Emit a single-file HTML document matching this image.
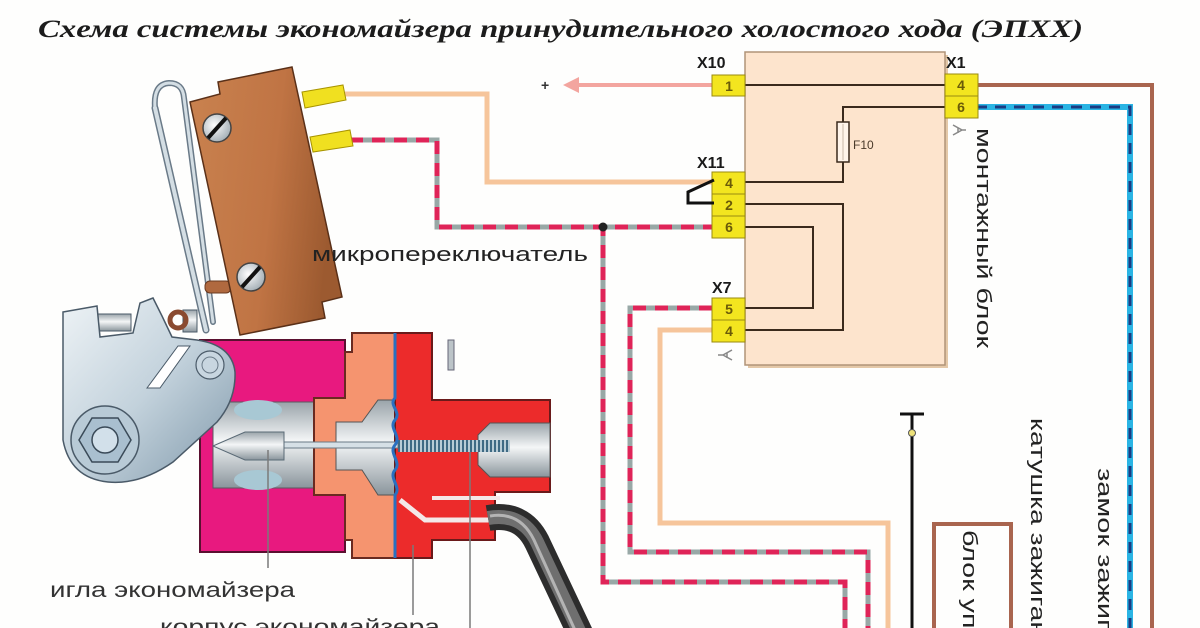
<!DOCTYPE html>
<html><head><meta charset="utf-8"><style>
html,body{margin:0;padding:0;background:#fff;width:1200px;height:628px;overflow:hidden;}
svg{display:block;}
</style></head><body>
<svg width="1200" height="628" viewBox="0 0 1200 628" xmlns="http://www.w3.org/2000/svg" font-family="'Liberation Sans','DejaVu Sans',sans-serif">
<defs>
<linearGradient id="brown" x1="0" y1="0" x2="1" y2="0.2">
<stop offset="0" stop-color="#c9824f"/><stop offset="0.6" stop-color="#c07444"/><stop offset="1" stop-color="#9c5a30"/></linearGradient>
<linearGradient id="silver" x1="0" y1="0" x2="1" y2="1">
<stop offset="0" stop-color="#eef3f6"/><stop offset="0.5" stop-color="#c3d2dc"/><stop offset="1" stop-color="#7f98aa"/></linearGradient>
<linearGradient id="silv2" x1="0" y1="0" x2="0" y2="1">
<stop offset="0" stop-color="#9aa4aa"/><stop offset="0.45" stop-color="#f4f6f7"/><stop offset="1" stop-color="#8a959c"/></linearGradient>
<radialGradient id="screw" cx="0.4" cy="0.4" r="0.7">
<stop offset="0" stop-color="#ffffff"/><stop offset="1" stop-color="#9aa6ae"/></radialGradient>
</defs>
<rect width="1200" height="628" fill="#fefefd"/>

<!-- Title -->
<text x="38" y="37" style="font-family:'Liberation Serif','DejaVu Serif',serif;font-style:italic;font-weight:bold" font-size="25" fill="#1c1c1c" textLength="1045" lengthAdjust="spacingAndGlyphs">Схема системы экономайзера принудительного холостого хода (ЭПХХ)</text>

<!-- wires -->
<g fill="none" stroke-linejoin="miter">
<path d="M345,94 H487 V182 H712" stroke="#f6c59b" stroke-width="5"/>
<path d="M712,330 H660 V523 H888 V640" stroke="#f6c59b" stroke-width="5"/>
<path d="M350,140 H437 V227 H712" stroke="#98a8a6" stroke-width="5"/>
<path d="M350,140 H437 V227 H712" stroke="#df2458" stroke-width="5" stroke-dasharray="13 9"/>
<path d="M603,227 V582 H845 V640" stroke="#98a8a6" stroke-width="5"/>
<path d="M603,227 V582 H845 V640" stroke="#df2458" stroke-width="5" stroke-dasharray="13 9" stroke-dashoffset="4"/>
<path d="M712,308 H630 V552 H868 V640" stroke="#98a8a6" stroke-width="5"/>
<path d="M712,308 H630 V552 H868 V640" stroke="#df2458" stroke-width="5" stroke-dasharray="13 9"/>
<path d="M976,107 H1130 V640" stroke="#2ab4e4" stroke-width="6"/>
<path d="M976,107 H1130 V640" stroke="#1b3b82" stroke-width="3" stroke-dasharray="11 8"/>
<path d="M976,85 H1152 V640" stroke="#a9654f" stroke-width="4"/>
<path d="M712,85 H576" stroke="#f3a59f" stroke-width="4"/>
</g>
<polygon points="563,85 579,77 579,93" fill="#f3a59f"/>
<text x="541" y="90" font-size="14" fill="#333" font-weight="bold">+</text>
<circle cx="603" cy="227" r="4.5" fill="#222"/>

<!-- Block -->
<rect x="748" y="55" width="200" height="313" fill="#e4c8a8"/>
<rect x="745" y="52" width="200" height="313" fill="#fde4cd" stroke="#b09478" stroke-width="1.5"/>
<g fill="none" stroke="#3b2a1c" stroke-width="2">
<path d="M745,85 H945"/>
<path d="M945,107 H843 V122"/>
<path d="M843,162 V182 H745"/>
<path d="M745,204 H843 V330 H745"/>
<path d="M745,227 H813 V308 H745"/>
</g>
<rect x="837" y="122" width="12" height="40" fill="#fff4ea" stroke="#3b2a1c" stroke-width="1.5"/>
<line x1="843" y1="124" x2="843" y2="160" stroke="#c8b8a8" stroke-width="1"/>
<text x="853" y="149" font-size="12" fill="#4a3a2a">F10</text>

<!-- connectors -->
<g stroke="#9a8a10" stroke-width="1" fill="#f3e51f">
<rect x="712" y="75" width="33" height="21"/>
<rect x="945" y="74" width="33" height="22"/>
<rect x="945" y="96" width="33" height="22"/>
<rect x="712" y="172" width="33" height="22"/>
<rect x="712" y="194" width="33" height="22"/>
<rect x="712" y="216" width="33" height="22"/>
<rect x="712" y="298" width="33" height="22"/>
<rect x="712" y="320" width="33" height="22"/>
</g>
<g font-size="14" fill="#6a5a08" text-anchor="middle" font-weight="bold">
<text x="729" y="91">1</text>
<text x="961" y="90">4</text>
<text x="961" y="112">6</text>
<text x="729" y="188">4</text>
<text x="729" y="210">2</text>
<text x="729" y="232">6</text>
<text x="729" y="314">5</text>
<text x="729" y="336">4</text>
</g>
<g font-size="16" font-weight="bold" fill="#1a1a1a">
<text x="697" y="68">X10</text>
<text x="946" y="68">X1</text>
<text x="697" y="168">X11</text>
<text x="712" y="293">X7</text>
</g>
<path d="M714,180 L688,192 V203 H714" fill="none" stroke="#111" stroke-width="3"/>
<g stroke="#888" stroke-width="1.5" fill="none">
<path d="M953,125 L962,130 L953,135 M958,128 V133 M962,130 H966"/>
<path d="M732,350 L723,355 L732,360 M727,353 V358 M723,355 H718"/>
</g>

<!-- vertical labels -->
<g font-size="20" fill="#222">
<text transform="translate(977,128) rotate(90)" textLength="220" lengthAdjust="spacingAndGlyphs">монтажный блок</text>
<text transform="translate(1031,418) rotate(90)" textLength="250" lengthAdjust="spacingAndGlyphs">катушка зажигания</text>
<text transform="translate(1098,468) rotate(90)" textLength="225" lengthAdjust="spacingAndGlyphs">замок зажигания</text>
<text transform="translate(963,530) rotate(90)" textLength="225" lengthAdjust="spacingAndGlyphs">блок управления</text>
</g>

<!-- T symbol -->
<path d="M900,414 H924 M912,414 V640" stroke="#111" stroke-width="3" fill="none"/>
<circle cx="912" cy="433" r="3.5" fill="#eee27a" stroke="#555" stroke-width="1"/>
<rect x="934" y="524" width="77" height="140" fill="none" stroke="#a9654f" stroke-width="4"/>

<!-- micro switch lever rod -->
<g fill="none" stroke-linecap="round">
<path d="M155,108 Q153,84 169,83 Q183,83 184,98 L213,322" stroke="#6a7a88" stroke-width="6"/>
<path d="M155,108 L206,330" stroke="#6a7a88" stroke-width="7"/>
<path d="M155,108 Q153,84 169,83 Q183,83 184,98 L213,322" stroke="#d4dee4" stroke-width="3"/>
<path d="M155,108 L206,330" stroke="#d4dee4" stroke-width="4"/>
</g>
<rect x="205" y="281" width="26" height="12" rx="5" fill="#b0693f" stroke="#6a3a20" stroke-width="1"/>
<path d="M190,102 L220,94 L218,82 L292,67 L342,297 L322,302 L325,318 L240,335 Z" fill="url(#brown)" stroke="#5a3018" stroke-width="1.5"/>
<polygon points="302,92 343,85 346,100 305,108" fill="#f0e020" stroke="#a89400" stroke-width="1"/>
<polygon points="310,137 350,130 353,146 313,152" fill="#f0e020" stroke="#a89400" stroke-width="1"/>
<circle cx="217" cy="128" r="14" fill="url(#screw)" stroke="#444" stroke-width="1.5"/>
<line x1="208" y1="138" x2="226" y2="118" stroke="#111" stroke-width="4"/>
<circle cx="251" cy="277" r="14" fill="url(#screw)" stroke="#444" stroke-width="1.5"/>
<line x1="242" y1="287" x2="260" y2="267" stroke="#111" stroke-width="4"/>

<!-- economizer body -->
<rect x="200" y="340" width="145" height="212" fill="#e8197f" stroke="#5a1030" stroke-width="2"/>
<rect x="213" y="402" width="102" height="86" fill="url(#silv2)" stroke="#5a5a60" stroke-width="1"/>
<ellipse cx="258" cy="410" rx="24" ry="10" fill="#a8c8d4"/>
<ellipse cx="258" cy="480" rx="24" ry="10" fill="#a8c8d4"/>
<path d="M345,352 H352 V333 H395 V558 H352 V540 H345 V495 H314 V398 H345 Z" fill="#f5946f" stroke="#6a2a20" stroke-width="2"/>
<polygon points="336,422 362,422 378,400 395,400 395,495 378,495 362,470 336,470" fill="url(#silv2)" stroke="#555" stroke-width="1"/>
<path d="M395,333 H432 V400 H550 V492 H495 V540 H432 V558 H395 Z" fill="#ec2b2b" stroke="#6a1a1a" stroke-width="2"/>
<path d="M490,423 H550 V477 H490 L478,465 V435 Z" fill="url(#silv2)" stroke="#555" stroke-width="1"/>
<path d="M400,500 L425,520 H500" fill="none" stroke="#f4e8e8" stroke-width="5"/>
<path d="M432,498 H500" fill="none" stroke="#f4e8e8" stroke-width="4"/>
<rect x="280" y="442" width="118" height="6" fill="#d6e0e6" stroke="#6a7a86" stroke-width="1"/>
<polygon points="213,446 245,432 284,432 284,460 245,460" fill="url(#silv2)" stroke="#5a6a76" stroke-width="1"/>
<line x1="398" y1="446" x2="510" y2="446" stroke="#b8ccd6" stroke-width="12"/>
<line x1="398" y1="446" x2="508" y2="446" stroke="#3f6a84" stroke-width="12" stroke-dasharray="2 2"/>
<path d="M395,333 V398 C388,405 402,412 395,420 C388,428 402,436 395,445 C388,453 402,462 395,470 C388,478 402,487 395,495 V558" fill="none" stroke="#2a70c0" stroke-width="3"/>
<rect x="448" y="340" width="6" height="30" fill="#bcc4c8" stroke="#667" stroke-width="1"/>
<!-- hose -->
<path d="M488,518 Q522,512 537,542 L588,650" fill="none" stroke="#2d2d2d" stroke-width="26"/>
<path d="M488,518 Q522,512 537,542 L588,650" fill="none" stroke="#6f6f6f" stroke-width="14"/>
<path d="M490,516 Q520,511 534,540 L584,650" fill="none" stroke="#b4b4b4" stroke-width="3"/>

<!-- cam plate (drawn over magenta body) -->
<rect x="97" y="314" width="34" height="17" fill="url(#silv2)" stroke="#4a5a68" stroke-width="1"/>
<path d="M63,312 L97,306 L100,337 L133,333 L140,303 L153,298 L162,316 L172,337 L197,340 Q232,345 235,372 Q236,400 217,422 L173,462 Q140,485 108,482 Q70,478 63,440 Z" fill="url(#silver)" stroke="#4a5a68" stroke-width="1.5"/>
<polygon points="147,388 178,346 190,346 160,388" fill="#fff" stroke="#4a5a68" stroke-width="1"/>
<circle cx="105" cy="440" r="34" fill="#b8cad6" stroke="#4a5a68" stroke-width="1.5"/>
<polygon points="131,440 118,462 92,462 79,440 92,418 118,418" fill="#a9bfcf" stroke="#3a4a58" stroke-width="1.5"/>
<circle cx="105" cy="440" r="13" fill="#d2e0ea" stroke="#3a4a58" stroke-width="1.5"/>
<circle cx="210" cy="365" r="14" fill="#c8d6e0" stroke="#4a5a68" stroke-width="1.2"/>
<circle cx="210" cy="365" r="8" fill="none" stroke="#6a7a88" stroke-width="1"/>
<rect x="183" y="310" width="14" height="22" fill="url(#silv2)" stroke="#4a5a68" stroke-width="1"/>
<circle cx="178" cy="320" r="8" fill="none" stroke="#8a4a30" stroke-width="5"/>

<!-- pointer lines -->
<g stroke="#7a7a7a" stroke-width="1.5">
<line x1="268" y1="450" x2="268" y2="568"/>
<line x1="413" y1="545" x2="413" y2="615"/>
<line x1="470" y1="452" x2="470" y2="628"/>
</g>

<!-- labels -->
<text x="312" y="261" font-size="20" fill="#222" textLength="276" lengthAdjust="spacingAndGlyphs">микропереключатель</text>
<text x="50" y="597" font-size="21" fill="#333" textLength="245" lengthAdjust="spacingAndGlyphs">игла экономайзера</text>
<text x="160" y="634" font-size="21" fill="#333" textLength="280" lengthAdjust="spacingAndGlyphs">корпус экономайзера</text>
</svg>
</body></html>
